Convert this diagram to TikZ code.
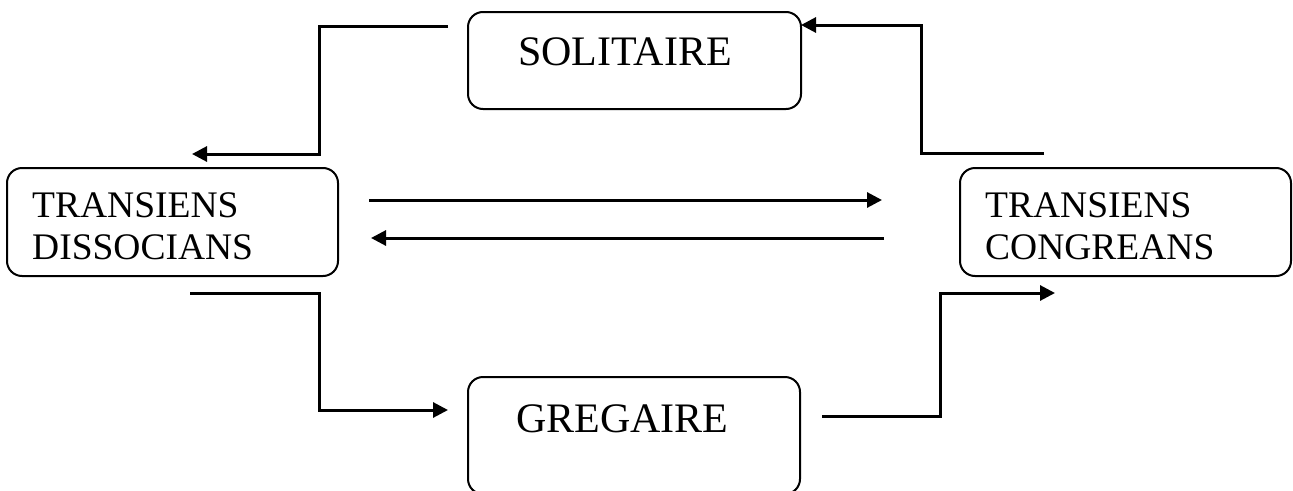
\documentclass[tikz,border=0pt]{standalone}
\usepackage{fontspec}
\setmainfont{Liberation Serif}
\usetikzlibrary{arrows.meta}
\tikzset{
  box/.style={draw, line width=2pt, rounded corners=15pt, rectangle, inner sep=0pt},
  bigtxt/.style={anchor=base west, inner sep=0pt, font=\fontsize{42}{46}\selectfont},
  midtxt/.style={anchor=base west, inner sep=0pt, font=\fontsize{37.5}{42}\selectfont},
  conn/.style={line width=3pt, -{Triangle[length=15pt,width=15pt]}}
}
\begin{document}
\begin{tikzpicture}[x=1pt,y=-1pt]
\clip (0,0) rectangle (1293,490);
% boxes
\node[box, minimum width=333pt, minimum height=97pt] (sol) at (634.5,60.5) {};
\node[box, minimum width=331pt, minimum height=108pt] (td) at (172.5,222) {};
\node[box, minimum width=331pt, minimum height=108pt] (tc) at (1125.5,222) {};
\node[box, minimum width=332pt, minimum height=117pt] (gre) at (634,435.5) {};
% texts
\node[bigtxt] (soltxt) at (518,65) {SOLITAIRE};
\node[bigtxt] (gretxt) at (516,432) {GREGAIRE};
\node[midtxt] (tdA) at (32,217) {TRANSIENS};
\node[midtxt] (tdB) at (32,259) {DISSOCIANS};
\node[midtxt] (tcA) at (985,217) {TRANSIENS};
\node[midtxt] (tcB) at (985,259) {CONGREANS};
% connector end points
\coordinate (a1) at (448,26);
\coordinate (a2) at (192,154);
\coordinate (b1) at (1044,153);
\coordinate (b2) at (801,25);
\coordinate (c1) at (369,200);
\coordinate (c2) at (882,200);
\coordinate (d1) at (884,238);
\coordinate (d2) at (371,238);
\coordinate (e1) at (190,293);
\coordinate (e2) at (448,410);
\coordinate (f1) at (822,416);
\coordinate (f2) at (1055,293);
% connectors
\draw[conn] (a1) -- (319,26) |- (a2);
\draw[conn] (b1) -- (921,153) |- (b2);
\draw[conn] (c1) -- (c2);
\draw[conn] (d1) -- (d2);
\draw[conn] (e1) -- (319,293) |- (e2);
\draw[conn] (f1) -- (940,416) |- (f2);
\end{tikzpicture}
\end{document}
